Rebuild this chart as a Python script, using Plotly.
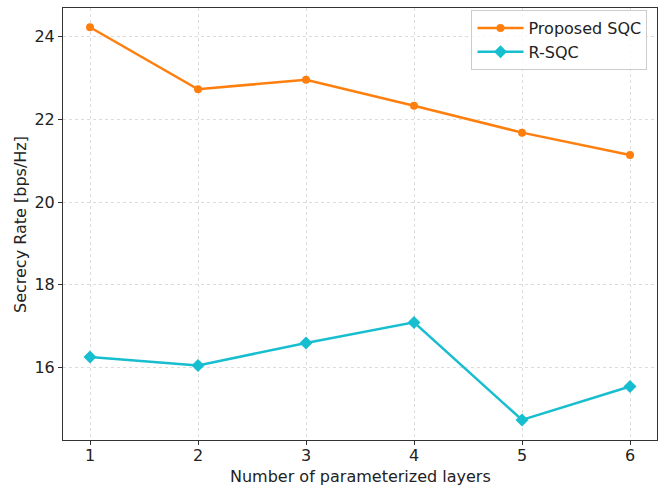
import plotly.graph_objects as go

layers = [1, 2, 3, 4, 5, 6]
proposed_sqc = [24.23, 22.73, 22.96, 22.33, 21.68, 21.14]
r_sqc = [16.25, 16.05, 16.59, 17.09, 14.73, 15.54]
y_ticks = [16, 18, 20, 22, 24]

fig = go.Figure()
fig.add_trace(go.Scatter(x=layers, y=proposed_sqc, mode="lines+markers", name="Proposed SQC",
                         line=dict(color="#ff7f0e", width=2.5),
                         marker=dict(symbol="circle", size=8, color="#ff7f0e")))
fig.add_trace(go.Scatter(x=layers, y=r_sqc, mode="lines+markers", name="R-SQC",
                         line=dict(color="#17becf", width=2.5),
                         marker=dict(symbol="diamond", size=10, color="#17becf")))

axis_common = dict(showline=True, linecolor="#333333", linewidth=1, mirror=True,
                   ticks="outside", ticklen=4, tickcolor="#333333",
                   showgrid=True, gridcolor="#dcdcdc", griddash="3px,3px", gridwidth=1,
                   zeroline=False, automargin=False,
                   tickfont=dict(size=16, color="#222222"))

fig.update_layout(
    width=661, height=487,
    margin=dict(l=63, r=4, t=8, b=47),
    paper_bgcolor="white", plot_bgcolor="white",
    font=dict(family="DejaVu Sans", size=16, color="#222222"),
    xaxis=dict(range=[0.75, 6.25], tickvals=layers, ticklabelstandoff=-3, **axis_common),
    yaxis=dict(range=[14.245, 24.695], tickvals=y_ticks, **axis_common),
    legend=dict(x=0.984, y=0.995, xanchor="right", yanchor="top",
                bordercolor="#cccccc", borderwidth=1, bgcolor="rgba(255,255,255,0.8)",
                font=dict(size=16), itemwidth=46),
    annotations=[
        dict(text="Number of parameterized layers", x=0.5, y=-0.0856, xref="paper", yref="paper",
             xanchor="center", yanchor="middle", showarrow=False, font=dict(size=16)),
        dict(text="Secrecy Rate [bps/Hz]", x=-0.0724, y=0.5, xref="paper", yref="paper",
             xanchor="center", yanchor="middle", textangle=-90, showarrow=False, font=dict(size=16)),
    ],
)

fig.write_html("out.html", config={"displayModeBar": False},
               post_script="document.body.style.margin='0';document.body.style.overflow='hidden';")
